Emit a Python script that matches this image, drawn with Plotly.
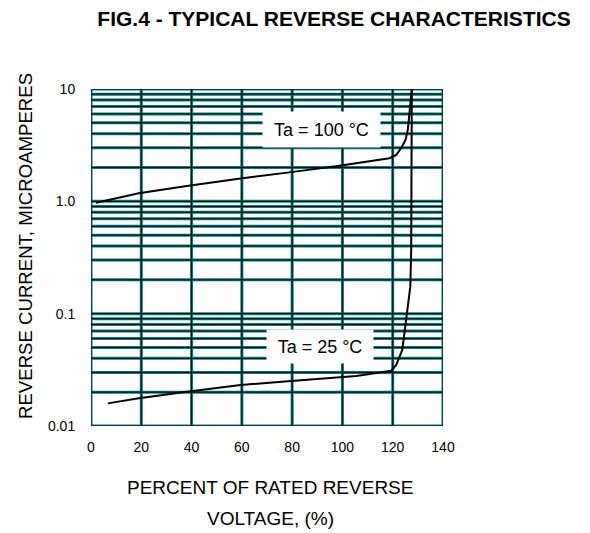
import math
import plotly.graph_objects as go

# ---- data ----
volt_100 = [2.0, 19.0, 38.1, 59.5, 79.6, 98.8, 118.7, 121.4, 123.4, 125.1, 126.0, 126.7, 127.35, 127.6]
curr_100 = [0.97, 1.18, 1.37, 1.60, 1.82, 2.07, 2.42, 2.59, 2.98, 3.53, 4.33, 6.14, 9.5, 10.0]

volt_25 = [6.7, 19.0, 38.1, 59.5, 79.6, 98.8, 105.5, 119.4, 121.4, 123.8, 125.6, 127.0, 127.35, 127.6]
curr_25 = [0.0159, 0.0177, 0.0202, 0.0232, 0.0251, 0.0272, 0.0279, 0.0310, 0.0349, 0.0475, 0.094, 0.174, 0.369, 10.0]

x_ticks = [0, 20, 40, 60, 80, 100, 120, 140]
x_ticktext = ["0", "20", "40", "60", "80", "100", "120", "140"]

y_decades = [0.01, 0.1, 1.0, 10.0]
y_decade_text = ["0.01", "0.1", "1.0", "10"]

label_100 = "Ta = 100 °C"
label_100_pos = (91.5, 4.38)
label_25 = "Ta = 25 °C"
label_25_pos = (90.9, 0.0511)

title_text = "FIG.4 - TYPICAL REVERSE CHARACTERISTICS"
y_title = "REVERSE CURRENT, MICROAMPERES"
x_title_lines = ["PERCENT OF RATED REVERSE", "VOLTAGE, (%)"]

# ---- grid values for log axis (1..9 per decade) ----
y_grid = []
y_gridtext = []
for dec, txt in zip(y_decades[:-1], y_decade_text[:-1]):
    for d in range(1, 10):
        v = round(d * dec, 6)
        y_grid.append(v)
        y_gridtext.append(txt if d == 1 else "")
y_grid.append(y_decades[-1])
y_gridtext.append(y_decade_text[-1])

TEAL = "#008080"
FONT = "Arial, Liberation Sans, sans-serif"

OFF = 8  # page body margin
W, H = 582, 525
ML, MT = 91 - OFF, 89 - OFF
PW, PH = 352, 337
MR, MB = W - ML - PW, H - MT - PH


def px_x(px):  # reference pixel -> paper x
    return (px - OFF - ML) / PW


def px_y(py):  # reference pixel -> paper y
    return (MT + PH - (py - OFF)) / PH


fig = go.Figure()
fig.add_trace(go.Scatter(x=volt_100, y=curr_100, mode="lines",
                         line=dict(color="black", width=2), showlegend=False,
                         hoverinfo="skip"))
fig.add_trace(go.Scatter(x=volt_25, y=curr_25, mode="lines",
                         line=dict(color="black", width=2), showlegend=False,
                         hoverinfo="skip"))

# grid lines: teal band with a thin black core, built from the tick lists
shapes = []
for color, width in [(TEAL, 3), ("black", 1)]:
    for v in x_ticks:
        shapes.append(dict(type="line", xref="x", yref="paper", x0=v, x1=v,
                           y0=0, y1=1, layer="between",
                           line=dict(color=color, width=width)))
    for v in y_grid:
        shapes.append(dict(type="line", xref="paper", yref="y", x0=0, x1=1,
                           y0=v, y1=v, layer="between",
                           line=dict(color=color, width=width)))

fig.update_layout(
    width=W, height=H,
    margin=dict(l=ML, r=MR, t=MT, b=MB, pad=0),
    paper_bgcolor="white", plot_bgcolor="white",
    font=dict(family=FONT, color="black"),
    title=dict(text="<b>" + title_text + "</b>", x=(334 - OFF) / W,
               xref="container", xanchor="center", y=1 - (19 - OFF) / H,
               yref="container", yanchor="middle",
               font=dict(size=21, family=FONT, color="black")),
    xaxis=dict(range=[0, 140], tickvals=x_ticks, ticktext=x_ticktext,
               showgrid=False, zeroline=False, showline=False,
               ticks="outside", ticklen=8, tickcolor="rgba(0,0,0,0)",
               tickfont=dict(size=14, family=FONT, color="black")),
    yaxis=dict(type="log", range=[-2, 1], tickvals=y_grid, ticktext=y_gridtext,
               showgrid=False, zeroline=False, showline=False,
               ticks="outside", ticklen=12, tickcolor="rgba(0,0,0,0)",
               tickfont=dict(size=14, family=FONT, color="black")),
    shapes=shapes,
)

annos = []
for txt, (ax, ay), w, h in [(label_100, label_100_pos, 117, 35),
                            (label_25, label_25_pos, 106, 33)]:
    annos.append(dict(text=txt, x=ax, y=math.log10(ay), xref="x", yref="y",
                      showarrow=False, bgcolor="white", width=w, height=h,
                      borderpad=0, xanchor="center", yanchor="middle",
                      font=dict(size=18, family=FONT, color="black")))

annos.append(dict(text=y_title, x=px_x(25.5), y=px_y(246.5), xref="paper",
                  yref="paper", showarrow=False, textangle=-90,
                  xanchor="center", yanchor="middle",
                  font=dict(size=18.6, family=FONT, color="black")))
for line, cy in zip(x_title_lines, [487.5, 518.5]):
    annos.append(dict(text=line, x=px_x(270), y=px_y(cy), xref="paper",
                      yref="paper", showarrow=False, xanchor="center",
                      yanchor="middle",
                      font=dict(size=19, family=FONT, color="black")))
fig.update_layout(annotations=annos)

fig.write_html("out.html")
